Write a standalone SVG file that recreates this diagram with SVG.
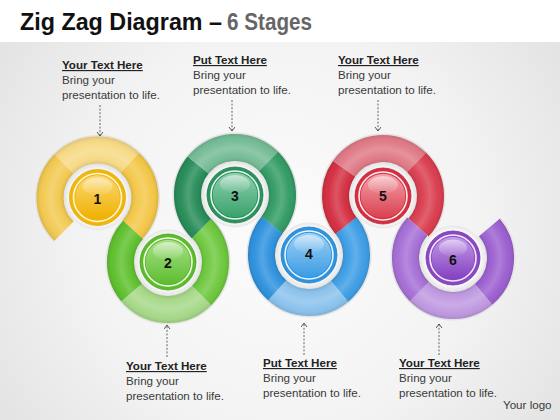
<svg xmlns="http://www.w3.org/2000/svg" width="560" height="420" viewBox="0 0 560 420">
<style>
.h{font-family:"Liberation Sans",Arial,sans-serif;font-size:11.6px;font-weight:bold;fill:#222;text-decoration:underline}
.b{font-family:"Liberation Sans",Arial,sans-serif;font-size:11.6px;fill:#3a3a3a}
.num{font-family:"Liberation Sans",Arial,sans-serif;font-size:14px;font-weight:bold;fill:#111;text-anchor:middle}
.seg{fill:none;stroke-width:27}
.halo{fill:none;stroke:#E3E3E3;stroke-width:30}
.tube{fill:none;stroke:url(#tube);stroke-width:27}
.conn{stroke:#555;stroke-width:0.9;stroke-dasharray:2 1.6;fill:none;marker-end:url(#ah)}
</style>
<defs>
<radialGradient id="bg" cx="280" cy="230" r="330" gradientUnits="userSpaceOnUse">
<stop offset="0" stop-color="#FCFCFC"/><stop offset="0.6" stop-color="#F3F3F3"/><stop offset="1" stop-color="#E4E4E4"/>
</radialGradient>
<radialGradient id="tube" cx="0" cy="0" r="61" gradientUnits="userSpaceOnUse">
<stop offset="0.557" stop-color="#000" stop-opacity="0.1"/>
<stop offset="0.64" stop-color="#fff" stop-opacity="0.04"/>
<stop offset="0.77" stop-color="#fff" stop-opacity="0.2"/>
<stop offset="0.9" stop-color="#fff" stop-opacity="0.03"/>
<stop offset="1" stop-color="#000" stop-opacity="0.1"/>
</radialGradient>
<radialGradient id="hubbg" cx="0" cy="0" r="33" gradientUnits="userSpaceOnUse">
<stop offset="0.8" stop-color="#FFFFFF"/><stop offset="1" stop-color="#E4E4E4"/>
</radialGradient>
<linearGradient id="gl" x1="0" y1="0" x2="0" y2="1">
<stop offset="0" stop-color="#fff" stop-opacity="0.75"/><stop offset="1" stop-color="#fff" stop-opacity="0.05"/>
</linearGradient>
<linearGradient id="i1" x1="0" y1="0" x2="0" y2="1"><stop offset="0" stop-color="#FAD873"/><stop offset="1" stop-color="#F0B000"/></linearGradient>
<linearGradient id="i2" x1="0" y1="0" x2="0" y2="1"><stop offset="0" stop-color="#A9E08A"/><stop offset="1" stop-color="#5DBD2E"/></linearGradient>
<linearGradient id="i3" x1="0" y1="0" x2="0" y2="1"><stop offset="0" stop-color="#8ED0AE"/><stop offset="1" stop-color="#3AA26C"/></linearGradient>
<linearGradient id="i4" x1="0" y1="0" x2="0" y2="1"><stop offset="0" stop-color="#9FD0F4"/><stop offset="1" stop-color="#3A9CE4"/></linearGradient>
<linearGradient id="i5" x1="0" y1="0" x2="0" y2="1"><stop offset="0" stop-color="#F3A2AA"/><stop offset="1" stop-color="#DA3F4F"/></linearGradient>
<linearGradient id="i6" x1="0" y1="0" x2="0" y2="1"><stop offset="0" stop-color="#C39BE6"/><stop offset="1" stop-color="#8440C2"/></linearGradient>
<marker id="ah" markerWidth="8" markerHeight="8" refX="5" refY="3" orient="auto" markerUnits="userSpaceOnUse">
<path d="M1,0 L5,3 L1,6" fill="none" stroke="#444" stroke-width="0.9"/>
</marker>
</defs>

<rect x="0" y="0" width="560" height="420" fill="url(#bg)"/>
<rect x="0" y="0" width="560" height="42" fill="#FFFFFF"/>

<text x="20" y="30" font-family="'Liberation Sans',Arial,sans-serif" font-size="23.5" font-weight="bold" fill="#111" textLength="202" lengthAdjust="spacingAndGlyphs">Zig Zag Diagram –</text>
<text x="227" y="30" font-family="'Liberation Sans',Arial,sans-serif" font-size="23.5" font-weight="bold" fill="#666" textLength="85" lengthAdjust="spacingAndGlyphs">6 Stages</text>

<g id="halos">
<path class="halo" transform="translate(97.5,197.5)" d="M -33.59 33.59 A 47.5 47.5 0 1 1 35.02 32.09"/>
<path class="halo" transform="translate(168,262)" d="M 33.59 -33.59 A 47.5 47.5 0 1 1 -35.02 -32.09"/>
<path class="halo" transform="translate(235,195)" d="M -33.59 33.59 A 47.5 47.5 0 1 1 36.91 29.89"/>
<path class="halo" transform="translate(309,255)" d="M 37.12 -29.64 A 47.5 47.5 0 1 1 -36.91 -29.89"/>
<path class="halo" transform="translate(383,196)" d="M -37.12 29.64 A 47.5 47.5 0 1 1 35.58 31.47"/>
<path class="halo" transform="translate(453,258)" d="M 36.39 -30.53 A 47.5 47.5 0 1 1 -35.58 -31.47"/>
</g>

<g id="stage1" transform="translate(97.5,197.5)">
<path class="seg" stroke="#F2C84E" d="M -33.59 33.59 A 47.5 47.5 0 0 1 -33.59 -33.59"/>
<path class="seg" stroke="#F6D983" d="M -33.59 -33.59 A 47.5 47.5 0 0 1 32.39 -34.74"/>
<path class="seg" stroke="#F3C645" d="M 32.39 -34.74 A 47.5 47.5 0 0 1 35.02 32.09"/>
<path class="tube" d="M -33.59 33.59 A 47.5 47.5 0 1 1 35.02 32.09"/>
<circle r="32.5" fill="url(#hubbg)"/>
<circle r="28" fill="#F0B60A" stroke="#E3A800" stroke-width="0.8"/>
<circle r="24" fill="none" stroke="#FFF6D8" stroke-width="1.6"/>
<circle r="22.3" fill="url(#i1)"/>
<ellipse cx="0" cy="-11" rx="15" ry="9" fill="url(#gl)" opacity="0.7"/>
<text class="num" x="0" y="6">1</text>
</g>

<g id="stage2" transform="translate(168,262)">
<path class="seg" stroke="#6BC73A" d="M 33.59 -33.59 A 47.5 47.5 0 0 1 33.59 33.59"/>
<path class="seg" stroke="#A5D886" d="M 33.59 33.59 A 47.5 47.5 0 0 1 -36.39 30.53"/>
<path class="seg" stroke="#5CBF2A" d="M -36.39 30.53 A 47.5 47.5 0 0 1 -35.02 -32.09"/>
<path class="tube" d="M 33.59 -33.59 A 47.5 47.5 0 1 1 -35.02 -32.09"/>
<circle r="32.5" fill="url(#hubbg)"/>
<circle r="28" fill="#5ABB2B" stroke="#4FA823" stroke-width="0.8"/>
<circle r="24" fill="none" stroke="#EFFBE6" stroke-width="1.6"/>
<circle r="22.3" fill="url(#i2)"/>
<ellipse cx="0" cy="-11" rx="15" ry="9" fill="url(#gl)" opacity="0.7"/>
<text class="num" x="0" y="6">2</text>
</g>

<g id="stage3" transform="translate(235,195)">
<path class="seg" stroke="#238A55" d="M -33.59 33.59 A 47.5 47.5 0 0 1 -36.91 -29.89"/>
<path class="seg" stroke="#72BA94" d="M -36.91 -29.89 A 47.5 47.5 0 0 1 33.59 -33.59"/>
<path class="seg" stroke="#2F9A62" d="M 33.59 -33.59 A 47.5 47.5 0 0 1 36.91 29.89"/>
<path class="tube" d="M -33.59 33.59 A 47.5 47.5 0 1 1 36.91 29.89"/>
<circle r="32.5" fill="url(#hubbg)"/>
<circle r="28" fill="#2A905C" stroke="#237F50" stroke-width="0.8"/>
<circle r="24" fill="none" stroke="#E6F6EE" stroke-width="1.6"/>
<circle r="22.3" fill="url(#i3)"/>
<ellipse cx="0" cy="-11" rx="15" ry="9" fill="url(#gl)" opacity="0.7"/>
<text class="num" x="0" y="6">3</text>
</g>

<g id="stage4" transform="translate(309,255)">
<path class="seg" stroke="#3A9CE4" d="M 37.12 -29.64 A 47.5 47.5 0 0 1 30.53 36.39"/>
<path class="seg" stroke="#88C1EC" d="M 30.53 36.39 A 47.5 47.5 0 0 1 -31.78 35.30"/>
<path class="seg" stroke="#2B90DD" d="M -31.78 35.30 A 47.5 47.5 0 0 1 -36.91 -29.89"/>
<path class="tube" d="M 37.12 -29.64 A 47.5 47.5 0 1 1 -36.91 -29.89"/>
<circle r="32.5" fill="url(#hubbg)"/>
<circle r="28" fill="#2E93DF" stroke="#2580C8" stroke-width="0.8"/>
<circle r="24" fill="none" stroke="#E8F4FD" stroke-width="1.6"/>
<circle r="22.3" fill="url(#i4)"/>
<ellipse cx="0" cy="-11" rx="15" ry="9" fill="url(#gl)" opacity="0.7"/>
<text class="num" x="0" y="4">4</text>
</g>

<g id="stage5" transform="translate(383,196)">
<path class="seg" stroke="#D32B3E" d="M -37.12 29.64 A 47.5 47.5 0 0 1 -38.91 -27.24"/>
<path class="seg" stroke="#DF7783" d="M -38.91 -27.24 A 47.5 47.5 0 0 1 33.59 -33.59"/>
<path class="seg" stroke="#D93A4C" d="M 33.59 -33.59 A 47.5 47.5 0 0 1 35.58 31.47"/>
<path class="tube" d="M -37.12 29.64 A 47.5 47.5 0 1 1 35.58 31.47"/>
<circle r="32.5" fill="url(#hubbg)"/>
<circle r="28" fill="#D42E40" stroke="#BD2535" stroke-width="0.8"/>
<circle r="24" fill="none" stroke="#FDEBED" stroke-width="1.6"/>
<circle r="22.3" fill="url(#i5)"/>
<ellipse cx="0" cy="-11" rx="15" ry="9" fill="url(#gl)" opacity="0.7"/>
<text class="num" x="0" y="5">5</text>
</g>

<g id="stage6" transform="translate(453,258)">
<path class="seg" stroke="#9A5DCF" d="M 36.39 -30.53 A 47.5 47.5 0 0 1 30.53 36.39"/>
<path class="seg" stroke="#BE97E0" d="M 30.53 36.39 A 47.5 47.5 0 0 1 -33.59 33.59"/>
<path class="seg" stroke="#A46CD5" d="M -33.59 33.59 A 47.5 47.5 0 0 1 -35.58 -31.47"/>
<path class="tube" d="M 36.39 -30.53 A 47.5 47.5 0 1 1 -35.58 -31.47"/>
<circle r="32.5" fill="url(#hubbg)"/>
<circle r="27" fill="#8A48C3" stroke="#7837B0" stroke-width="0.8"/>
<circle r="23" fill="none" stroke="#F3EAFB" stroke-width="1.6"/>
<circle r="21.3" fill="url(#i6)"/>
<ellipse cx="0" cy="-10" rx="14" ry="8.5" fill="url(#gl)" opacity="0.7"/>
<text class="num" x="0" y="7">6</text>
</g>

<g id="connectors">
<path class="conn" d="M 100 105 L 100 136"/>
<path class="conn" d="M 232 100 L 232 131"/>
<path class="conn" d="M 378 100 L 378 131"/>
<path class="conn" d="M 167 357 L 167 325"/>
<path class="conn" d="M 304 355 L 304 323"/>
<path class="conn" d="M 439 355 L 439 324"/>
</g>

<g id="label1"><text class="h" x="62" y="69">Your Text Here</text><text class="b" x="62" y="84">Bring your</text><text class="b" x="62" y="99">presentation to life.</text></g>
<g id="label3"><text class="h" x="193" y="64">Put Text Here</text><text class="b" x="193" y="79">Bring your</text><text class="b" x="193" y="94">presentation to life.</text></g>
<g id="label5"><text class="h" x="338" y="64">Your Text Here</text><text class="b" x="338" y="79">Bring your</text><text class="b" x="338" y="94">presentation to life.</text></g>
<g id="label2"><text class="h" x="126" y="370">Your Text Here</text><text class="b" x="126" y="385">Bring your</text><text class="b" x="126" y="400">presentation to life.</text></g>
<g id="label4"><text class="h" x="263" y="367">Put Text Here</text><text class="b" x="263" y="382">Bring your</text><text class="b" x="263" y="397">presentation to life.</text></g>
<g id="label6"><text class="h" x="399" y="367">Your Text Here</text><text class="b" x="399" y="382">Bring your</text><text class="b" x="399" y="397">presentation to life.</text></g>
<text class="b" x="503" y="409">Your logo</text>
</svg>
